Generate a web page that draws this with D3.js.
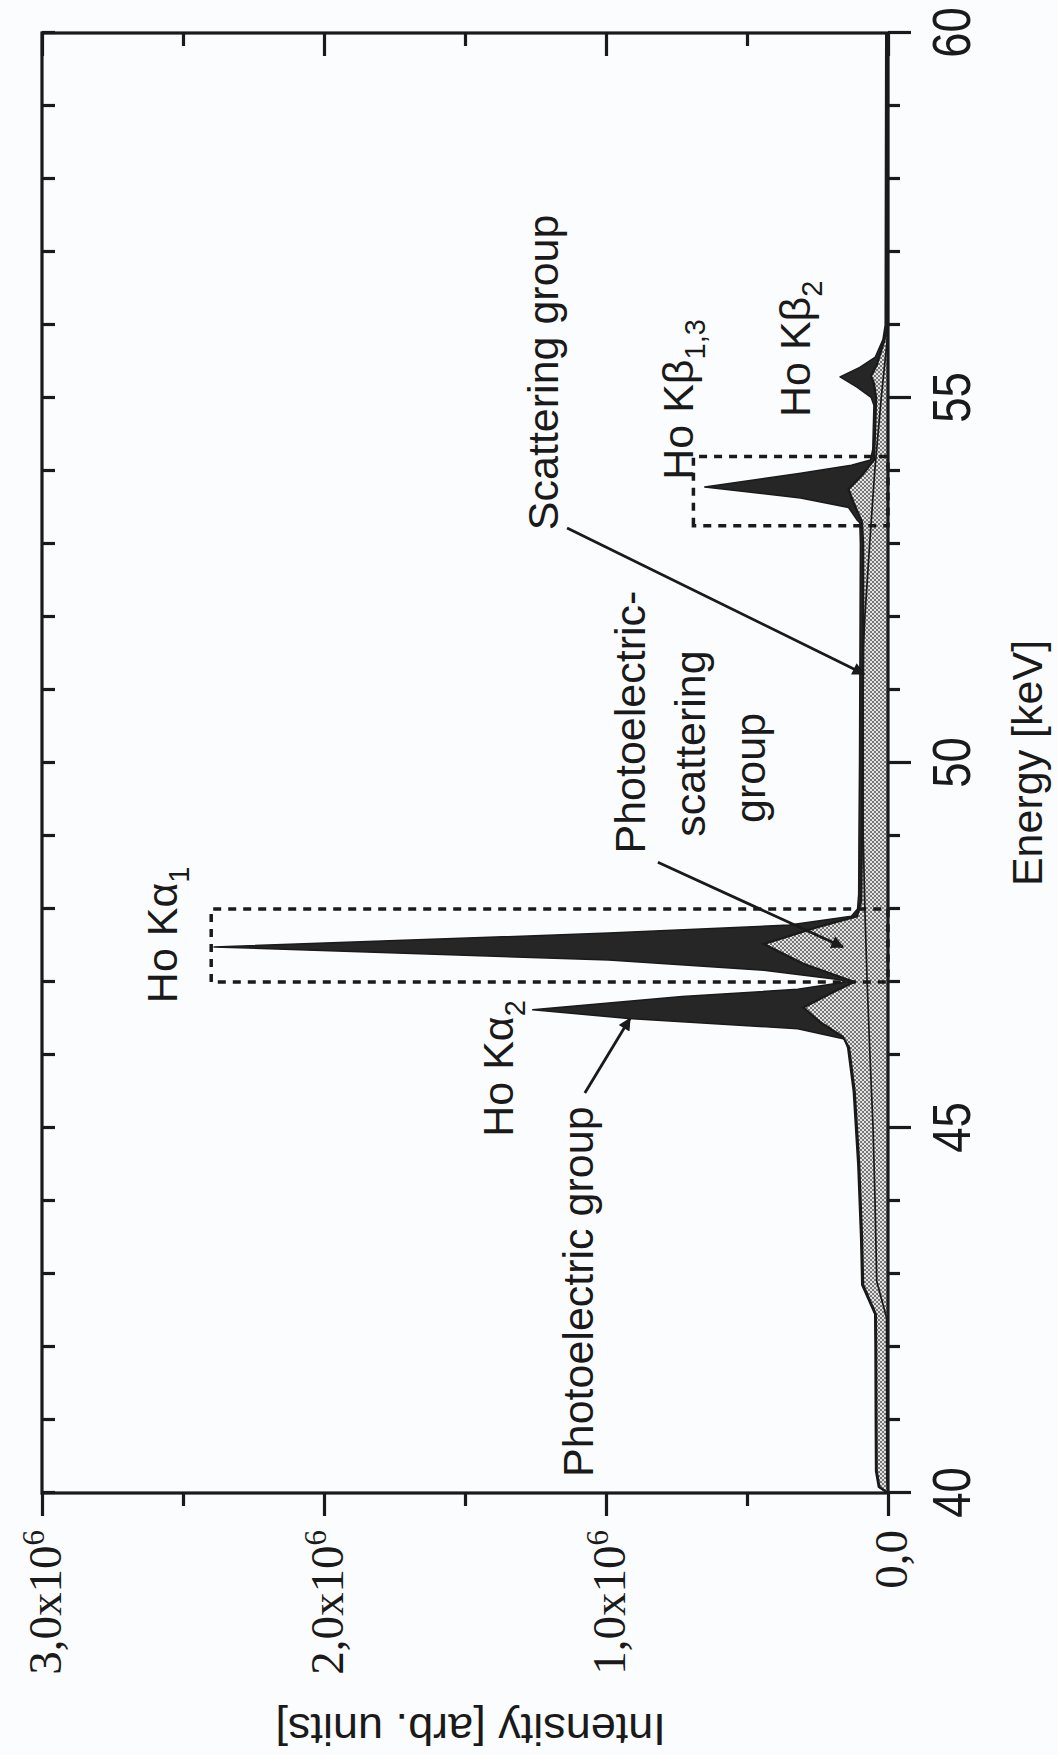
<!DOCTYPE html>
<html>
<head>
<meta charset="utf-8">
<script src="https://cdn.jsdelivr.net/npm/d3@7"></script>
<style>
  html, body { margin: 0; padding: 0; background: #fbfcfd; }
  svg { display: block; }
</style>
</head>
<body>
<svg id="chart" width="1058" height="1755"></svg>
<script>
// energy in keV, intensity in units of 1e6 (arb.)
const energyTicks = d3.range(40, 61, 1);
const energyLabels = [40, 45, 50, 55, 60];
const intensityMajor = [0, 1, 2, 3];
const intensityMinor = [0.5, 1.5, 2.5];
const intensityLabels = ["0,0", "1,0x10", "2,0x10", "3,0x10"];

// scattering group (inner line)
const scattering = [
  [40, 0], [40.2, 0.004], [42.4, 0.005], [42.9, 0.040], [44, 0.046], [45, 0.053],
  [46, 0.064], [47, 0.074], [48, 0.082], [49, 0.088], [50, 0.088], [51, 0.088],
  [51.6, 0.087], [52, 0.082], [53, 0.065], [54, 0.047], [55, 0.024], [55.9, 0], [60, 0]
];

// photoelectric-scattering group (stippled, cumulative)
const photoScatter = [
  [40, 0], [40.08, 0.03], [40.3, 0.04], [41, 0.041], [42, 0.042], [42.45, 0.043],
  [42.85, 0.088], [43.5, 0.092], [44.5, 0.102], [45.5, 0.118], [46.1, 0.138],
  [46.25, 0.16], [46.45, 0.24], [46.65, 0.30], [46.85, 0.20], [47.0, 0.12],
  [47.25, 0.30], [47.52, 0.44], [47.75, 0.25], [47.9, 0.11], [48.1, 0.095],
  [49, 0.092], [50, 0.09], [51, 0.089], [52, 0.088], [53, 0.088], [53.3, 0.092],
  [53.55, 0.12], [53.75, 0.14], [53.95, 0.09], [54.15, 0.05], [54.5, 0.046],
  [55, 0.042], [55.2, 0.05], [55.3, 0.06], [55.45, 0.04], [55.8, 0.012], [56, 0], [60, 0]
];

// photoelectric group (black, total)
const photoelectric = [
  [40, 0], [40.08, 0.034], [40.3, 0.044], [41, 0.045], [42, 0.046], [42.45, 0.047],
  [42.85, 0.093], [43.5, 0.097], [44.5, 0.107], [45.5, 0.123], [46.1, 0.143],
  [46.22, 0.155], [46.36, 0.32], [46.5, 0.92], [46.62, 1.26], [46.8, 0.73],
  [46.9, 0.32], [47.0, 0.15], [47.03, 0.17], [47.16, 0.44], [47.3, 0.99],
  [47.48, 2.39], [47.67, 0.99], [47.78, 0.35], [47.9, 0.13], [48.0, 0.108],
  [48.2, 0.104], [49, 0.103], [50, 0.101], [51, 0.1], [52, 0.099], [53, 0.098],
  [53.29, 0.1], [53.33, 0.11], [53.5, 0.14], [53.63, 0.31], [53.78, 0.65],
  [53.97, 0.31], [54.08, 0.13], [54.15, 0.062], [54.3, 0.054], [54.9, 0.05],
  [55.01, 0.06], [55.15, 0.11], [55.29, 0.17], [55.42, 0.1], [55.56, 0.045],
  [55.8, 0.018], [56, 0.01], [60, 0.008]
];

// dotted boxes: [E from, E to, intensity top]
const boxes = [[47.0, 48.0, 2.4], [53.25, 54.2, 0.69]];

const W = 1460, H = 846;
const sans = "'Liberation Sans', Arial, Helvetica, sans-serif";
const serif = "'Liberation Serif', 'Times New Roman', serif";
const ink = "#1a1a1a";

const svg = d3.select("#chart");
const defs = svg.append("defs");

const pat = defs.append("pattern").attr("id", "stip")
  .attr("patternUnits", "userSpaceOnUse").attr("width", 4).attr("height", 4);
pat.append("rect").attr("width", 4).attr("height", 4).attr("fill", "#e4e4e4");
pat.append("circle").attr("cx", 1).attr("cy", 1).attr("r", 0.95).attr("fill", "#474747");
pat.append("circle").attr("cx", 3).attr("cy", 3).attr("r", 0.95).attr("fill", "#474747");

defs.append("marker").attr("id", "head")
  .attr("viewBox", "0 0 10 10").attr("refX", 9).attr("refY", 5)
  .attr("markerWidth", 7.5).attr("markerHeight", 4.5).attr("orient", "auto")
  .append("path").attr("d", "M0,0 L10,5 L0,10 z").attr("fill", ink);

// the whole figure is turned a quarter turn, as in the scan
const g = svg.append("g").attr("transform", "translate(42,1493) rotate(-90)");

const x = d3.scaleLinear().domain([40, 60]).range([0, W]);
const y = d3.scaleLinear().domain([0, 3]).range([H, 0]);

const area = d3.area().x(d => x(d[0])).y0(y(0)).y1(d => y(d[1]));
const line = d3.line().x(d => x(d[0])).y(d => y(d[1]));

g.append("path").datum(photoelectric).attr("d", area)
  .attr("fill", "#262626").attr("stroke", ink).attr("stroke-width", 1.5)
  .attr("stroke-linejoin", "round");
g.append("path").datum(photoScatter).attr("d", area).attr("fill", "url(#stip)");
g.append("path").datum(photoScatter).attr("d", line)
  .attr("fill", "none").attr("stroke", ink).attr("stroke-width", 2.2);
g.append("path").datum(scattering).attr("d", line)
  .attr("fill", "none").attr("stroke", ink).attr("stroke-width", 1.7);

boxes.forEach(b => {
  g.append("rect")
    .attr("x", x(b[0])).attr("y", y(b[2]))
    .attr("width", x(b[1]) - x(b[0])).attr("height", y(0) - y(b[2]))
    .attr("fill", "none").attr("stroke", ink).attr("stroke-width", 3.5)
    .attr("stroke-dasharray", "8,7");
});

// frame
g.append("rect").attr("width", W).attr("height", H)
  .attr("fill", "none").attr("stroke", ink).attr("stroke-width", 3.2);

function styleAxis(sel) {
  sel.select(".domain").remove();
  sel.selectAll(".tick line").attr("stroke", ink).attr("stroke-width", 3.2);
}

// energy axis (page right side)
g.append("g").attr("transform", `translate(0,${H})`)
  .call(d3.axisBottom(x).tickValues(energyTicks.filter(v => v % 5)).tickSize(12).tickFormat(""))
  .call(styleAxis);
const eAx = g.append("g").attr("transform", `translate(0,${H})`)
  .call(d3.axisBottom(x).tickValues(energyLabels).tickSize(23).tickFormat(d3.format("d")))
  .call(styleAxis);
eAx.selectAll(".tick text")
  .attr("y", 82).attr("dy", 0).attr("transform", "scale(0.86,1)")
  .attr("fill", ink).attr("font-family", sans).attr("font-size", 53);

// mirror energy ticks (page left side)
g.append("g")
  .call(d3.axisTop(x).tickValues(energyTicks).tickSize(-13).tickFormat(""))
  .call(styleAxis);

// intensity axis (page bottom)
g.append("g")
  .call(d3.axisLeft(y).tickValues(intensityMinor).tickSize(13).tickFormat(""))
  .call(styleAxis);
const iAx = g.append("g")
  .call(d3.axisLeft(y).tickValues(intensityMajor).tickSize(23))
  .call(styleAxis);
iAx.selectAll(".tick text").each(function(d, i) {
  const t = d3.select(this).text(null)
    .attr("x", -37).attr("dy", 18).attr("text-anchor", "end")
    .attr("fill", ink).attr("font-family", serif).attr("font-size", 47);
  if (d === 0) { t.text(intensityLabels[i]); return; }
  t.append("tspan").text(intensityLabels[i]);
  t.append("tspan").attr("dy", -17).attr("font-size", 31).text("6");
});

// mirror intensity ticks (page top)
g.append("g").attr("transform", `translate(${W},0)`)
  .call(d3.axisRight(y).tickValues(intensityMinor).tickSize(-13).tickFormat(""))
  .call(styleAxis);
g.append("g").attr("transform", `translate(${W},0)`)
  .call(d3.axisRight(y).tickValues(intensityMajor).tickSize(-23).tickFormat(""))
  .call(styleAxis);

// axis titles
g.append("text").attr("x", x(50)).attr("y", H + 154)
  .attr("text-anchor", "middle").attr("fill", ink)
  .attr("font-family", sans).attr("font-size", 43).text("Energy [keV]");
g.append("text").attr("transform", `translate(-221,${y(1.48)}) rotate(-90)`)
  .attr("text-anchor", "middle").attr("fill", ink)
  .attr("font-family", sans).attr("font-size", 45).text("Intensity [arb. units]");

// annotations
const notes = [
  { t: "Ho K\u03b1", s: "1", e: 46.71, v: 2.521 },
  { t: "Ho K\u03b1", s: "2", e: 44.88, v: 1.33 },
  { t: "Ho K\u03b2", s: "1,3", e: 53.88, v: 0.691 },
  { t: "Ho K\u03b2", s: "2", e: 54.74, v: 0.277 },
  { t: "Photoelectric group", e: 40.22, v: 1.046 },
  { t: "Photoelectric-", e: 48.76, v: 0.862 },
  { t: "scattering", e: 48.99, v: 0.649 },
  { t: "group", e: 49.18, v: 0.436 },
  { t: "Scattering group", e: 53.19, v: 1.17 }
];
notes.forEach(n => {
  const t = g.append("text").attr("x", x(n.e)).attr("y", y(n.v))
    .attr("fill", ink).attr("font-family", sans).attr("font-size", 43);
  t.append("tspan").text(n.t);
  if (n.s) t.append("tspan").attr("dy", 12).attr("font-size", 29).text(n.s);
});

// arrows: [from E, from I, to E, to I]
const arrows = [
  [45.48, 1.075, 46.5, 0.915],
  [48.64, 0.816, 47.48, 0.16],
  [53.22, 1.138, 51.22, 0.085]
];
arrows.forEach(a => {
  g.append("line")
    .attr("x1", x(a[0])).attr("y1", y(a[1]))
    .attr("x2", x(a[2])).attr("y2", y(a[3]))
    .attr("stroke", ink).attr("stroke-width", 2.8)
    .attr("marker-end", "url(#head)");
});
</script>
</body>
</html>
